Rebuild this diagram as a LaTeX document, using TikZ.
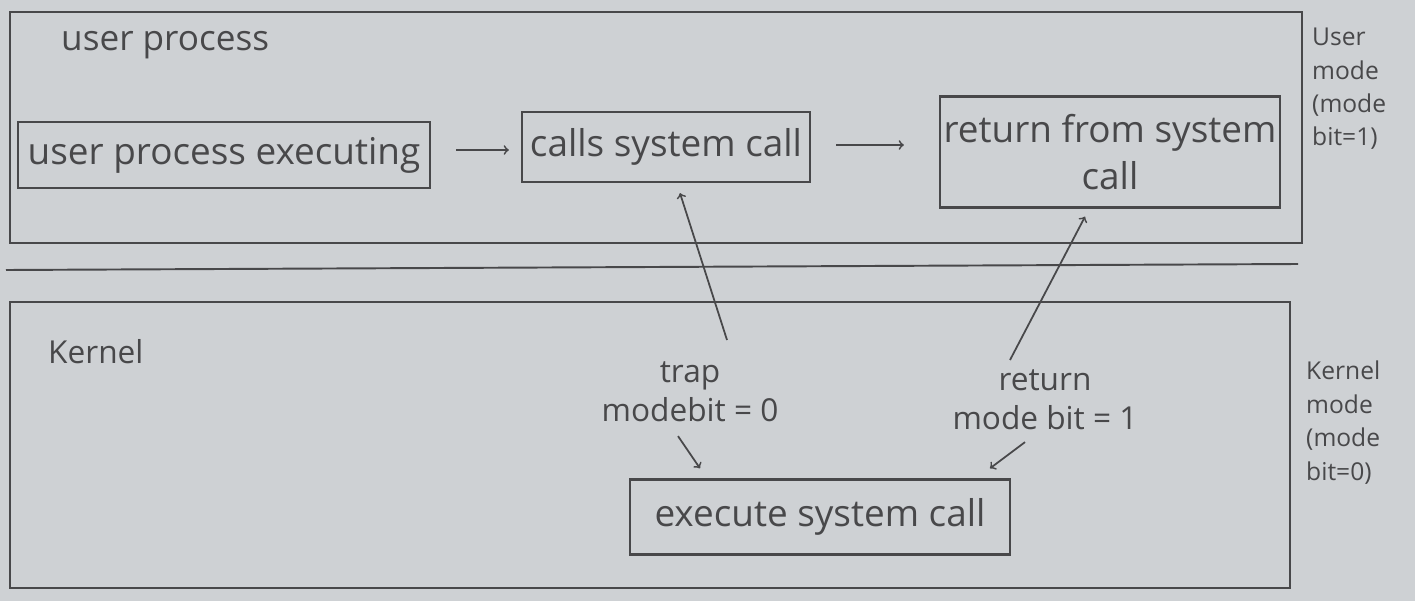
\documentclass[tikz,border=0pt]{standalone}
\usepackage{fontspec}
\setmainfont{Open Sans}
\definecolor{Paper}{RGB}{206, 209, 212}
\definecolor{Pencil}{RGB}{72, 72, 74}

\begin{document}
\begin{tikzpicture}[x=0.02cm, y=-0.02cm,
        region/.style={draw=Pencil, line width=1.1pt},
        box/.style={draw=Pencil, line width=1.3pt, text=Pencil, font=\fontsize{21}{27}\selectfont, align=center, inner sep=2pt},
        lbl/.style={text=Pencil, font=\fontsize{18}{22}\selectfont, align=center},
        side/.style={text=Pencil, font=\fontsize{14}{19}\selectfont, align=left},
        arr/.style={->, >=to, line width=1pt, Pencil}
    ]
    % paper
    \fill[Paper] (0,0) rectangle (1415,601);

    % Regions
    \draw[region] (10,12) rectangle (1302,243);
    \draw[region] (6,270) -- (1298,264);
    \draw[region] (10,302) rectangle (1290,588);
    \node[lbl, anchor=west, font=\fontsize{20}{24}\selectfont] (uproc) at (55,45) {user process};
    \node[lbl, anchor=west] (kern) at (42,352) {Kernel};
    \node[side, anchor=north west] (umode) at (1306,22) {User\\mode\\(mode\\bit=1)};
    \node[side, anchor=north west] (kmode) at (1300,355) {Kernel\\mode\\(mode\\bit=0)};

    % Blocks
    \node[box, minimum width=412*0.02cm, minimum height=66*0.02cm] (exec) at (224,155) {user process executing};
    \node[box, minimum width=288*0.02cm, minimum height=70*0.02cm] (calls) at (666,147) {calls system call};
    \node[box, minimum width=340*0.02cm, minimum height=111*0.02cm] (ret) at (1110,152) {return from system\\call};
    \node[box, minimum width=380*0.02cm, minimum height=75*0.02cm] (kexec) at (820,517) {execute system call};

    % Mode switch labels
    \node[lbl] (trap) at (690,392) {trap\\modebit = 0};
    \node[lbl] (rtn) at (1045,400) {return\\mode bit = 1};

    % Arrows
    \draw[arr, shorten <=25*0.02cm, shorten >=12*0.02cm] ([yshift=5*0.02cm]exec.east) -- ([yshift=5*0.02cm]exec.east -| calls.west);
    \draw[arr, shorten <=25*0.02cm, shorten >=35*0.02cm] ([yshift=2*0.02cm]calls.east) -- ([yshift=2*0.02cm]calls.east -| ret.west);
    \coordinate (trapend) at (727,340);
    \coordinate (rtnend) at (1010,360);
    \draw[arr] (trapend) -- ([xshift=14*0.02cm, yshift=-10*0.02cm]calls.south);
    \draw[arr] (rtnend) -- ([xshift=-25*0.02cm, yshift=-8*0.02cm]ret.south);
    \draw[arr] ([xshift=-12*0.02cm, yshift=-8*0.02cm]trap.south) -- ([xshift=-120*0.02cm, yshift=10*0.02cm]kexec.north);
    \draw[arr] ([xshift=-20*0.02cm, yshift=-6*0.02cm]rtn.south) -- ([xshift=170*0.02cm, yshift=10*0.02cm]kexec.north);
\end{tikzpicture}
\end{document}
